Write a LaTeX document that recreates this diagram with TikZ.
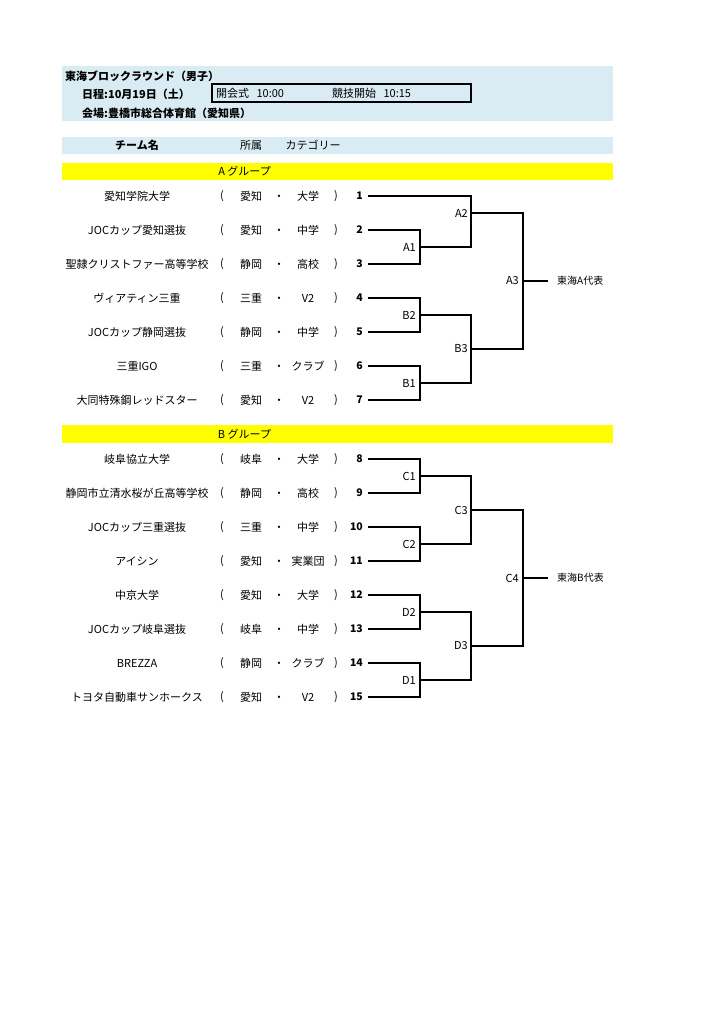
\documentclass[tikz,border=0pt]{standalone}
\usepackage{fontspec}
\setmainfont{Noto Sans CJK JP}
\definecolor{bandblue}{RGB}{218,236,243}
\definecolor{bandyellow}{RGB}{255,255,0}
\begin{document}
\begin{tikzpicture}[x=1pt,y=-1pt,
  every node/.style={inner sep=0pt,font=\fontsize{11}{13}\selectfont},
  boldtxt/.style={font=\fontsize{11}{13}\selectfont\bfseries},
  numtxt/.style={anchor=east,font=\fontsize{10.5}{12}\selectfont\bfseries},
  matchlbl/.style={anchor=east},
  reptxt/.style={anchor=west,font=\fontsize{10}{12}\selectfont},
  brline/.style={line width=2pt},
  band/.style={fill=bandblue},
  groupband/.style={fill=bandyellow}]
\useasboundingbox[fill=white] (0,0) rectangle (724,1024);

% header bands
\fill[band] (62,66) rectangle (613,121);
\fill[band] (62,137) rectangle (613,154);
\fill[groupband] (62,163) rectangle (613,180);
\fill[groupband] (62,425) rectangle (613,443);

% header texts
\node[boldtxt,anchor=west] (title) at (65,76) {東海ブロックラウンド（男子）};
\node[boldtxt,anchor=west] (date) at (82,94) {日程:10月19日（土）};
\node[boldtxt,anchor=west] (venue) at (82,113) {会場:豊橋市総合体育館（愛知県）};
\draw[line width=2.6pt] (212,84) rectangle (471,102);
\node[anchor=west] (open) at (216,93) {開会式\ \ \ 10:00};
\node[anchor=west] (start) at (332,93) {競技開始\ \ \ 10:15};

% column headers
\node[boldtxt] (hteam) at (137,145.5) {チーム名};
\node (hpref) at (251,145.5) {所属};
\node (hcat) at (313,145.5) {カテゴリー};
\node (gA) at (244.5,171.5) {A\ グループ};
\node (gB) at (244.5,434) {B\ グループ};

% team rows
\foreach \n/\y/\team/\pref/\cat in {
  1/196/愛知学院大学/愛知/大学,
  2/230/JOCカップ愛知選抜/愛知/中学,
  3/264/聖隷クリストファー高等学校/静岡/高校,
  4/298/ヴィアティン三重/三重/V2,
  5/332/JOCカップ静岡選抜/静岡/中学,
  6/366/三重IGO/三重/クラブ,
  7/400/大同特殊鋼レッドスター/愛知/V2,
  8/459/岐阜協立大学/岐阜/大学,
  9/493/静岡市立清水桜が丘高等学校/静岡/高校,
  10/527/JOCカップ三重選抜/三重/中学,
  11/561/アイシン/愛知/実業団,
  12/595/中京大学/愛知/大学,
  13/629/JOCカップ岐阜選抜/岐阜/中学,
  14/663/BREZZA/静岡/クラブ,
  15/697/トヨタ自動車サンホークス/愛知/V2}{
  \node (t\n) at (137,\y) {\team};
  \node (lp\n) at (222,\y) {(};
  \node (p\n) at (251,\y) {\pref};
  \node (dot\n) at (279,\y+1.5) {・};
  \node (c\n) at (308,\y) {\cat};
  \node (rp\n) at (336,\y) {)};
  \node[numtxt] (n\n) at (363,\y) {\n};
  \coordinate (s\n) at (368,\y);
}

% bracket junction points (vertical x, outgoing y)
\coordinate (A1) at (420,247);
\coordinate (A2) at (471,213);
\coordinate (B2) at (420,315);
\coordinate (B1) at (420,383);
\coordinate (B3) at (471,349);
\coordinate (A3) at (523,281);
\coordinate (OA) at (548,281);
\coordinate (C1) at (420,476);
\coordinate (C2) at (420,544);
\coordinate (C3) at (471,510);
\coordinate (D2) at (420,612);
\coordinate (D1) at (420,680);
\coordinate (D3) at (471,646);
\coordinate (C4) at (523,578);
\coordinate (OB) at (548,578);

% group A bracket
\draw[brline] (s2) -| (A1);
\draw[brline] (s3) -| (A1);
\draw[brline] (s1) -| (A2);
\draw[brline] (A1) -| (A2);
\draw[brline] (s4) -| (B2);
\draw[brline] (s5) -| (B2);
\draw[brline] (s6) -| (B1);
\draw[brline] (s7) -| (B1);
\draw[brline] (B2) -| (B3);
\draw[brline] (B1) -| (B3);
\draw[brline] (A2) -| (A3);
\draw[brline] (B3) -| (A3);
\draw[brline] (A3) -- (OA);

% group B bracket
\draw[brline] (s8) -| (C1);
\draw[brline] (s9) -| (C1);
\draw[brline] (s10) -| (C2);
\draw[brline] (s11) -| (C2);
\draw[brline] (C1) -| (C3);
\draw[brline] (C2) -| (C3);
\draw[brline] (s12) -| (D2);
\draw[brline] (s13) -| (D2);
\draw[brline] (s14) -| (D1);
\draw[brline] (s15) -| (D1);
\draw[brline] (D2) -| (D3);
\draw[brline] (D1) -| (D3);
\draw[brline] (C3) -| (C4);
\draw[brline] (D3) -| (C4);
\draw[brline] (C4) -- (OB);

% match labels
\foreach \m/\gap in {A1/4,A2/3,A3/4,B1/4,B2/4,B3/3,C1/4,C2/4,C3/3,C4/4,D1/4,D2/4,D3/3}{
  \node[matchlbl] (l\m) at ([xshift=-\gap pt]\m) {\m};
}

% representatives
\node[reptxt] (repA) at ([xshift=9pt]OA) {東海A代表};
\node[reptxt] (repB) at ([xshift=9pt]OB) {東海B代表};
\end{tikzpicture}
\end{document}
